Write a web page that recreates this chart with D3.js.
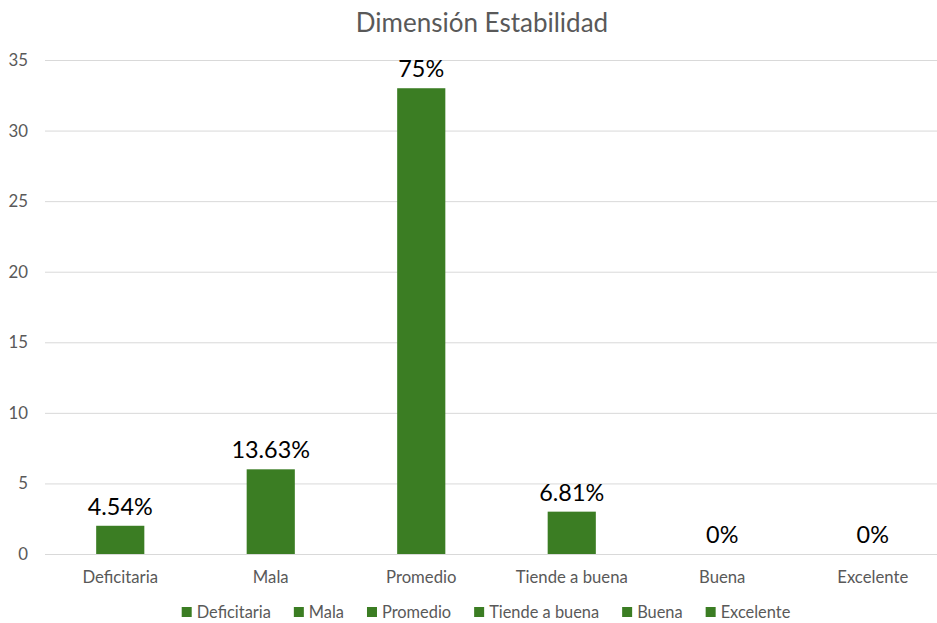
<!DOCTYPE html>
<html><head><meta charset="utf-8">
<script src="https://cdn.jsdelivr.net/npm/d3@7"></script>
<style>body{margin:0;background:#fff}svg{display:block;font-family:Lato,"Open Sans",sans-serif}</style>
</head><body><svg id="c" width="937" height="623"></svg>
<script>
const title = "Dimensión Estabilidad";
const categories = ["Deficitaria","Mala","Promedio","Tiende a buena","Buena","Excelente"];
const values = [2,6,33,3,0,0];
const labels = ["4.54%","13.63%","75%","6.81%","0%","0%"];
const yTicks = [0,5,10,15,20,25,30,35];

const svg = d3.select("#c");
const green = "#3B7D23", gray = "#595959";
const x = d3.scaleBand().domain(categories).range([45, 948]).paddingInner(0.68).paddingOuter(0.34);
const y = d3.scaleLinear().domain([0,35]).range([554,60]);

svg.append("text").attr("x", 482).attr("y", 32).attr("text-anchor","middle")
  .attr("fill", gray).attr("font-size", 26).text(title);

const grid = svg.append("g");
grid.selectAll("line").data(yTicks).join("line")
  .attr("x1",45).attr("x2",948).attr("y1",d=>y(d)+0.5).attr("y2",d=>y(d)+0.5)
  .attr("stroke","#d9d9d9").attr("stroke-width",1);
grid.selectAll("text").data(yTicks).join("text")
  .attr("x",28).attr("y",d=>y(d)+6).attr("text-anchor","end")
  .attr("fill",gray).attr("font-size",16.8).text(d=>d);

svg.append("g").selectAll("rect").data(categories).join("rect")
  .attr("x",d=>x(d)).attr("width",x.bandwidth())
  .attr("y",(d,i)=>y(values[i])).attr("height",(d,i)=>y(0)-y(values[i]))
  .attr("fill",green);

svg.append("g").selectAll("text").data(categories).join("text")
  .attr("x",d=>x(d)+x.bandwidth()/2).attr("y",(d,i)=>y(values[i])-11)
  .attr("text-anchor","middle").attr("fill","#000").attr("font-size",23.4).text((d,i)=>labels[i]);

svg.append("g").selectAll("text").data(categories).join("text")
  .attr("x",d=>x(d)+x.bandwidth()/2).attr("y",583)
  .attr("text-anchor","middle").attr("fill",gray).attr("font-size",16.7).text(d=>d);

// legend
const leg = svg.append("g");
const items = leg.selectAll("g").data(categories).join("g");
items.append("rect").attr("width",10).attr("height",10).attr("y",-11).attr("fill",green);
items.append("text").attr("x",15).attr("y",0).attr("fill",gray).attr("font-size",16.4).text(d=>d);
let widths = [];
items.each(function(){ widths.push(d3.select(this).select("text").node().getComputedTextLength()+15); });
const gap = 23;
const total = d3.sum(widths) + gap*(widths.length-1);
let cx = 486 - total/2;
items.attr("transform",(d,i)=>{ const t = `translate(${cx},618)`; cx += widths[i]+gap; return t; });
</script></body></html>
